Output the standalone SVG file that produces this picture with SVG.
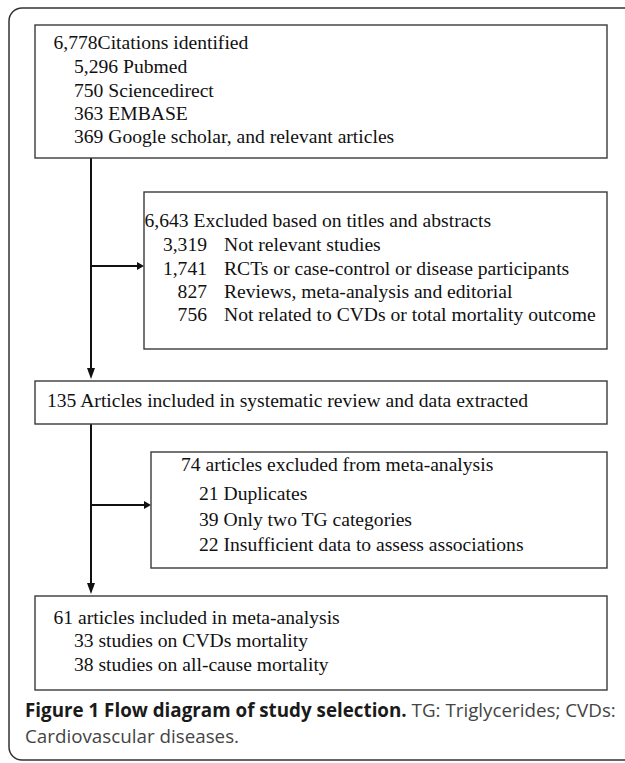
<svg xmlns="http://www.w3.org/2000/svg" width="625" height="763" viewBox="0 0 625 763">
<style>
.box{fill:#fff;stroke:#3a3a3a;stroke-width:1.4}
.t{font-family:"Liberation Serif","Times New Roman",serif;font-size:19.6px;fill:#111}
.e{text-anchor:end}
.conn{stroke:#111;stroke-width:2;fill:none}
.cap{font-family:"Open Sans","Noto Sans",sans-serif;font-size:18.8px;fill:#444}
</style>
<rect x="9" y="8" width="640" height="752" rx="13" fill="#fff" stroke="#333" stroke-width="1.5"/>
<g id="connectors">
<line class="conn" x1="91" y1="158" x2="91" y2="369"/>
<path d="M87,368 L95,368 L91,379 z" fill="#111"/>
<line class="conn" x1="91" y1="266" x2="138" y2="266"/>
<path d="M137,262 L144,266 L137,270 z" fill="#111"/>
<line class="conn" x1="91" y1="424" x2="91" y2="584"/>
<path d="M87,583 L95,583 L91,594 z" fill="#111"/>
<line class="conn" x1="91" y1="505" x2="145" y2="505"/>
<path d="M144,501 L151,505 L144,509 z" fill="#111"/>
</g>
<g id="n1">
<rect class="box" x="35" y="25" width="572" height="133"/>
<text class="t" x="53.5" y="49">6,778Citations identified</text>
<text class="t" x="74" y="73">5,296 Pubmed</text>
<text class="t" x="74" y="97">750 Sciencedirect</text>
<text class="t" x="74" y="120">363 EMBASE</text>
<text class="t" x="74" y="143">369 Google scholar, and relevant articles</text>
</g>
<g id="n2">
<rect class="box" x="144" y="192" width="463" height="157"/>
<text class="t" x="144.5" y="227">6,643 Excluded based on titles and abstracts</text>
<text class="t e" x="207" y="251">3,319</text>
<text class="t" x="224" y="251">Not relevant studies</text>
<text class="t e" x="207" y="274.5">1,741</text>
<text class="t" x="224" y="274.5">RCTs or case-control or disease participants</text>
<text class="t e" x="207" y="298">827</text>
<text class="t" x="224" y="298">Reviews, meta-analysis and editorial</text>
<text class="t e" x="207" y="321">756</text>
<text class="t" x="224" y="321">Not related to CVDs or total mortality outcome</text>
</g>
<g id="n3">
<rect class="box" x="35" y="381" width="572" height="43"/>
<text class="t" x="47" y="407">135 Articles included in systematic review and data extracted</text>
</g>
<g id="n4">
<rect class="box" x="151" y="452" width="456" height="116"/>
<text class="t" x="181" y="471">74 articles excluded from meta-analysis</text>
<text class="t" x="199" y="500">21 Duplicates</text>
<text class="t" x="199" y="526">39 Only two TG categories</text>
<text class="t" x="199" y="551">22 Insufficient data to assess associations</text>
</g>
<g id="n5">
<rect class="box" x="35" y="596" width="572" height="94"/>
<text class="t" x="53.5" y="624">61 articles included in meta-analysis</text>
<text class="t" x="74" y="647">33 studies on CVDs mortality</text>
<text class="t" x="74" y="671">38 studies on all-cause mortality</text>
</g>
<g id="caption">
<text class="cap" x="25" y="717"><tspan font-weight="bold" fill="#1a1a1a">Figure 1 Flow diagram of study selection.</tspan> TG: Triglycerides; CVDs:</text>
<text class="cap" x="25" y="743">Cardiovascular diseases.</text>
</g>
</svg>
